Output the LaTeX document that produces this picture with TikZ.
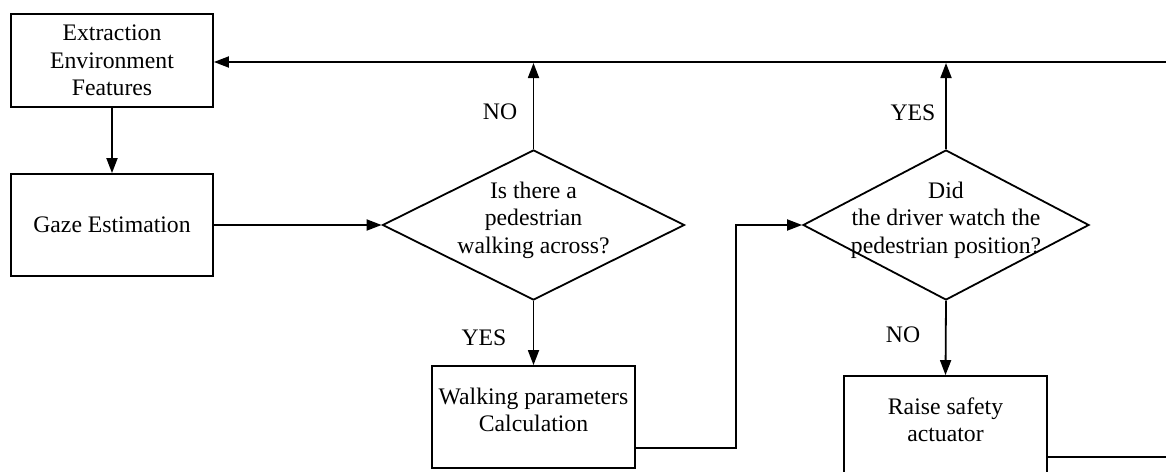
\documentclass[tikz,border=0pt]{standalone}
\usepackage{fontspec}
\setmainfont{Liberation Serif}
\usetikzlibrary{shapes.geometric,arrows.meta}
\begin{document}
\begin{tikzpicture}[x=1pt,y=-1pt,
  font=\fontsize{23.7}{27.5}\selectfont,
  line width=1.8pt,
  procbox/.style={draw, rectangle, inner sep=0pt, align=center},
  decbox/.style={draw, diamond, inner sep=0pt, minimum width=302pt, minimum height=150pt},
  dectext/.style={align=center, inner sep=0pt},
  arr/.style={-{Triangle[length=15pt,width=11pt]}},
  lbl/.style={inner sep=0pt}]
\useasboundingbox (0,0) rectangle (1166,471);
\clip (0,0) rectangle (1166,471);
% nodes
\node[procbox, minimum width=202pt, minimum height=93pt] (e1) at (112,60.5) {Extraction\\Environment\\Features};
\node[procbox, minimum width=202pt, minimum height=102pt] (g) at (112,225) {Gaze Estimation};
\node[decbox] (d1) at (533.5,225) {};
\node[dectext] (d1t) at (533.5,220) {Is there a\\pedestrian\\walking across?};
\node[procbox, minimum width=203pt, minimum height=102pt] (w) at (533.5,417) {};
\node[dectext] (wt) at (533.5,410) {Walking parameters\\Calculation};
\node[decbox, minimum width=286pt] (d2) at (946,225) {};
\node[dectext] (d2t) at (946,220) {Did\\the driver watch the\\pedestrian position?};
\node[procbox, minimum width=203pt, minimum height=102pt] (r) at (945.5,427) {};
\node[dectext] (rt) at (945.5,420) {Raise safety\\actuator};
% coordinates
\coordinate (topR) at (1166,62);
\coordinate (n1) at (533.5,63);
\coordinate (n2) at (946,63);
\coordinate (wout) at (635,448);
\coordinate (wbend1) at (736,448);
\coordinate (wbend2) at (736,225);
\coordinate (rout) at (1047,457);
\coordinate (rend) at (1166,457);
% connectors
\draw[arr] (topR) -- (e1.east |- topR);
\draw[arr] (e1) -- (g);
\draw[arr] (g) -- (d1.west);
\draw[arr] (d1.north) -- (n1);
\draw[arr] (d1.south) -- (w.north);
\draw[arr] (wout) -- (wbend1) -- (wbend2) -- (d2.west);
\draw[arr] (d2.north) -- (n2);
\draw[arr] (d2.south) -- (r.north);
\draw (rout) -- (rend);
% labels
\node[lbl] (l1) at (500,112) {NO};
\node[lbl] (l2) at (484,338) {YES};
\node[lbl] (l3) at (913,113) {YES};
\node[lbl] (l4) at (903,335) {NO};
\end{tikzpicture}
\end{document}
